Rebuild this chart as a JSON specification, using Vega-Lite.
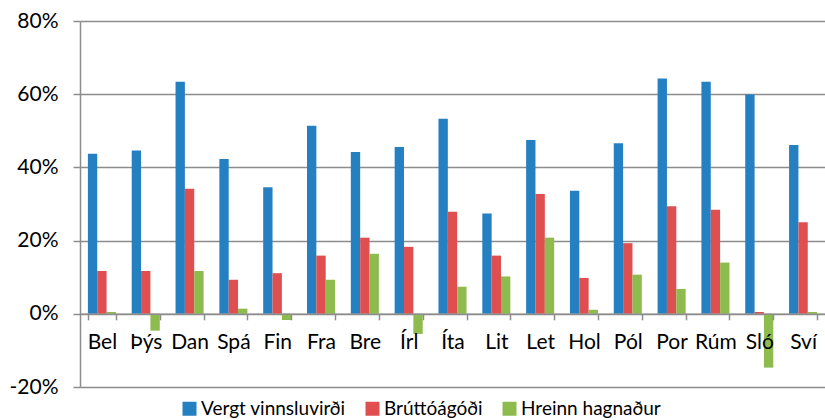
{
  "$schema": "https://vega.github.io/schema/vega-lite/v6.json",
  "autosize": "none",
  "padding": {"left": 80, "top": 21, "right": 0, "bottom": 33},
  "width": 745,
  "height": 366,
  "config": {"view": {"stroke": null}, "font": "Lato"},
  "data": {"values": [
    {"c":"Bel","s":"Vergt vinnsluvirði","v":0.437},{"c":"Bel","s":"Brúttóágóði","v":0.117},{"c":"Bel","s":"Hreinn hagnaður","v":0.005},
    {"c":"Þýs","s":"Vergt vinnsluvirði","v":0.446},{"c":"Þýs","s":"Brúttóágóði","v":0.117},{"c":"Þýs","s":"Hreinn hagnaður","v":-0.046},
    {"c":"Dan","s":"Vergt vinnsluvirði","v":0.634},{"c":"Dan","s":"Brúttóágóði","v":0.342},{"c":"Dan","s":"Hreinn hagnaður","v":0.117},
    {"c":"Spá","s":"Vergt vinnsluvirði","v":0.423},{"c":"Spá","s":"Brúttóágóði","v":0.093},{"c":"Spá","s":"Hreinn hagnaður","v":0.014},
    {"c":"Fin","s":"Vergt vinnsluvirði","v":0.346},{"c":"Fin","s":"Brúttóágóði","v":0.111},{"c":"Fin","s":"Hreinn hagnaður","v":-0.017},
    {"c":"Fra","s":"Vergt vinnsluvirði","v":0.514},{"c":"Fra","s":"Brúttóágóði","v":0.159},{"c":"Fra","s":"Hreinn hagnaður","v":0.093},
    {"c":"Bre","s":"Vergt vinnsluvirði","v":0.442},{"c":"Bre","s":"Brúttóágóði","v":0.208},{"c":"Bre","s":"Hreinn hagnaður","v":0.164},
    {"c":"Írl","s":"Vergt vinnsluvirði","v":0.456},{"c":"Írl","s":"Brúttóágóði","v":0.183},{"c":"Írl","s":"Hreinn hagnaður","v":-0.055},
    {"c":"Íta","s":"Vergt vinnsluvirði","v":0.533},{"c":"Íta","s":"Brúttóágóði","v":0.279},{"c":"Íta","s":"Hreinn hagnaður","v":0.074},
    {"c":"Lit","s":"Vergt vinnsluvirði","v":0.274},{"c":"Lit","s":"Brúttóágóði","v":0.159},{"c":"Lit","s":"Hreinn hagnaður","v":0.102},
    {"c":"Let","s":"Vergt vinnsluvirði","v":0.475},{"c":"Let","s":"Brúttóágóði","v":0.327},{"c":"Let","s":"Hreinn hagnaður","v":0.208},
    {"c":"Hol","s":"Vergt vinnsluvirði","v":0.336},{"c":"Hol","s":"Brúttóágóði","v":0.098},{"c":"Hol","s":"Hreinn hagnaður","v":0.011},
    {"c":"Pól","s":"Vergt vinnsluvirði","v":0.466},{"c":"Pól","s":"Brúttóágóði","v":0.193},{"c":"Pól","s":"Hreinn hagnaður","v":0.107},
    {"c":"Por","s":"Vergt vinnsluvirði","v":0.643},{"c":"Por","s":"Brúttóágóði","v":0.294},{"c":"Por","s":"Hreinn hagnaður","v":0.068},
    {"c":"Rúm","s":"Vergt vinnsluvirði","v":0.634},{"c":"Rúm","s":"Brúttóágóði","v":0.284},{"c":"Rúm","s":"Hreinn hagnaður","v":0.140},
    {"c":"Sló","s":"Vergt vinnsluvirði","v":0.599},{"c":"Sló","s":"Brúttóágóði","v":0.005},{"c":"Sló","s":"Hreinn hagnaður","v":-0.147},
    {"c":"Sví","s":"Vergt vinnsluvirði","v":0.461},{"c":"Sví","s":"Brúttóágóði","v":0.250},{"c":"Sví","s":"Hreinn hagnaður","v":0.005}
  ]},
  "mark": {"type": "bar"},
  "encoding": {
    "x": {
      "field": "c", "type": "nominal", "sort": null, "title": null,
      "scale": {"paddingInner": 0.36, "paddingOuter": 0.18},
      "axis": {
        "orient": "bottom", "offset": -73.2, "labelAngle": 0, "zindex": 1,
        "domainColor": "#8c8c8c", "domainWidth": 1.5,
        "tickColor": "#8c8c8c", "tickWidth": 1.5, "tickSize": 6, "tickBand": "extent",
        "labelFontSize": 21, "labelColor": "#000000", "labelPadding": 12, "labelFont": "Lato",
        "grid": false
      }
    },
    "xOffset": {"field": "s", "type": "nominal", "sort": ["Vergt vinnsluvirði", "Brúttóágóði", "Hreinn hagnaður"], "scale": {"paddingInner": 0, "paddingOuter": 0}},
    "y": {
      "field": "v", "type": "quantitative", "title": null,
      "scale": {"domain": [-0.2, 0.8], "nice": false, "zero": false},
      "axis": {
        "values": [-0.2, 0, 0.2, 0.4, 0.6, 0.8], "format": ".0%",
        "labelExpr": "replace(datum.label, '−', '-')",
        "domainColor": "#8c8c8c", "domainWidth": 1.5,
        "tickColor": "#8c8c8c", "tickWidth": 1.5, "tickSize": 7,
        "gridColor": "#8c8c8c", "gridWidth": 1.5, "gridOpacity": 1,
        "labelFontSize": 21, "labelColor": "#000000", "labelPadding": 15, "labelFont": "Lato"
      }
    },
    "color": {
      "field": "s", "type": "nominal", "sort": ["Vergt vinnsluvirði", "Brúttóágóði", "Hreinn hagnaður"],
      "scale": {"domain": ["Vergt vinnsluvirði", "Brúttóágóði", "Hreinn hagnaður"], "range": ["#2580C2", "#E04F4F", "#8DBB4E"]},
      "legend": {
        "title": null, "orient": "none", "direction": "horizontal",
        "legendX": 100, "legendY": 378,
        "symbolType": "square", "symbolSize": 196, "symbolStrokeWidth": 0, "symbolOpacity": 1,
        "labelFontSize": 19, "labelColor": "#000000", "labelFont": "Lato", "labelOffset": 2,
        "columnPadding": 17
      }
    }
  }
}
